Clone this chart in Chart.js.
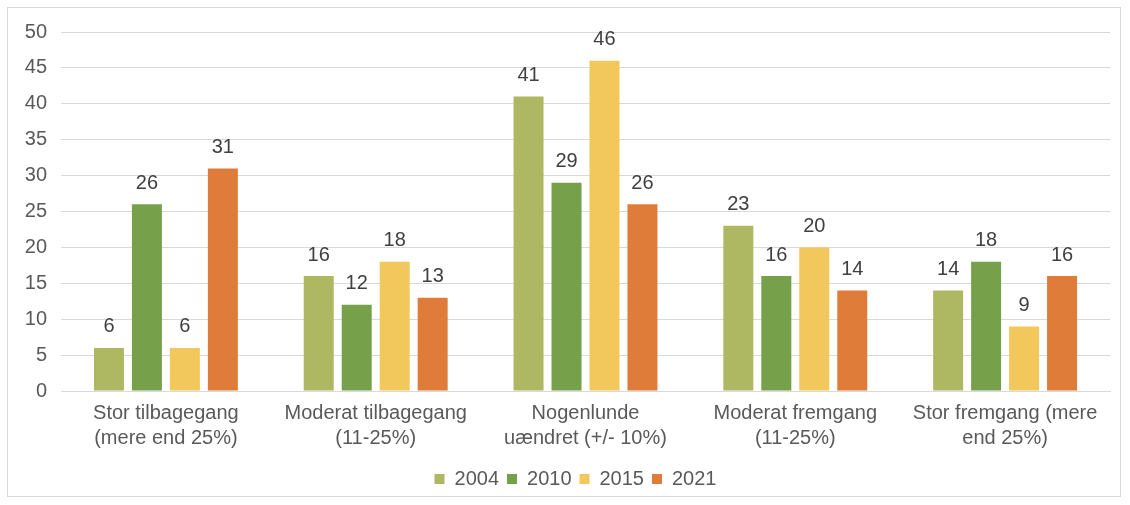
<!DOCTYPE html>
<html>
<head>
<meta charset="utf-8">
<script src="https://cdn.jsdelivr.net/npm/chart.js@4"></script>
<style>
  html, body { margin: 0; padding: 0; background: #fff; }
  #wrap { position: relative; width: 1130px; height: 505px; }
  #frame { position: absolute; left: 7px; top: 7px; width: 1114px; height: 490px; border: 1px solid #d9d9d9; box-sizing: border-box; pointer-events: none; }
</style>
</head>
<body>
<div id="wrap">
  <canvas id="graphique" width="1130" height="505"></canvas>
  <div id="frame"></div>
</div>
<script>
const categories = [
  ["Stor tilbagegang", "(mere end 25%)"],
  ["Moderat tilbagegang", "(11-25%)"],
  ["Nogenlunde", "uændret (+/- 10%)"],
  ["Moderat fremgang", "(11-25%)"],
  ["Stor fremgang (mere", "end 25%)"]
];
const years = ["2004", "2010", "2015", "2021"];
const values2004 = [6, 16, 41, 23, 14];
const values2010 = [26, 12, 29, 16, 18];
const values2015 = [6, 18, 46, 20, 9];
const values2021 = [31, 13, 26, 14, 16];
const colours = ["#aeb862", "#77a04a", "#f2c75c", "#e07c3a"];

const FONT = "'Liberation Sans', Arial, sans-serif";

// étiquettes de valeurs au-dessus des barres
const valueLabels = {
  id: "valueLabels",
  afterDatasetsDraw(chart) {
    const c = chart.ctx;
    c.save();
    c.font = "20px " + FONT;
    c.fillStyle = "#404040";
    c.textAlign = "center";
    c.textBaseline = "middle";
    chart.data.datasets.forEach((ds, i) => {
      chart.getDatasetMeta(i).data.forEach((bar, j) => {
        c.fillText(ds.data[j], bar.x, bar.y - 21);
      });
    });
    c.restore();
  }
};

// décaler un peu la légende vers la droite, comme dans l'original
const shiftLegend = {
  id: "shiftLegend",
  afterLayout(chart) {
    const lg = chart.legend;
    const dx = (chart.chartArea.left + chart.chartArea.right) / 2 - (lg.left + lg.right) / 2 - 10;
    lg.left += dx;
    lg.right += dx;
  }
};

const ctx = document.getElementById("graphique").getContext("2d");
new Chart(ctx, {
  type: "bar",
  data: {
    labels: categories,
    datasets: [values2004, values2010, values2015, values2021].map((v, i) => ({
      label: years[i],
      data: v,
      backgroundColor: colours[i],
      categoryPercentage: 0.724,
      barPercentage: 0.79
    }))
  },
  options: {
    responsive: false,
    animation: false,
    layout: { padding: { left: 11, right: 20, top: 32, bottom: 6 } },
    plugins: {
      legend: {
        position: "bottom",
        labels: {
          boxWidth: 10, boxHeight: 10, padding: 8,
          color: "#595959",
          font: { family: FONT, size: 20 }
        }
      },
      tooltip: { enabled: false }
    },
    scales: {
      x: {
        grid: { display: false, drawTicks: false },
        border: { color: "#d9d9d9", width: 1 },
        ticks: {
          color: "#595959", padding: 10, maxRotation: 0, autoSkip: false,
          font: { family: FONT, size: 20, lineHeight: 1.25 }
        },
        afterFit: s => { s.height = 70; }
      },
      y: {
        min: 0, max: 50,
        grid: { color: "#d9d9d9", drawTicks: false },
        border: { display: false },
        ticks: {
          stepSize: 5, color: "#595959", padding: 14,
          font: { family: FONT, size: 20 }
        },
        afterFit: s => { s.width = 50; }
      }
    }
  },
  plugins: [valueLabels, shiftLegend]
});
</script>
</body>
</html>
